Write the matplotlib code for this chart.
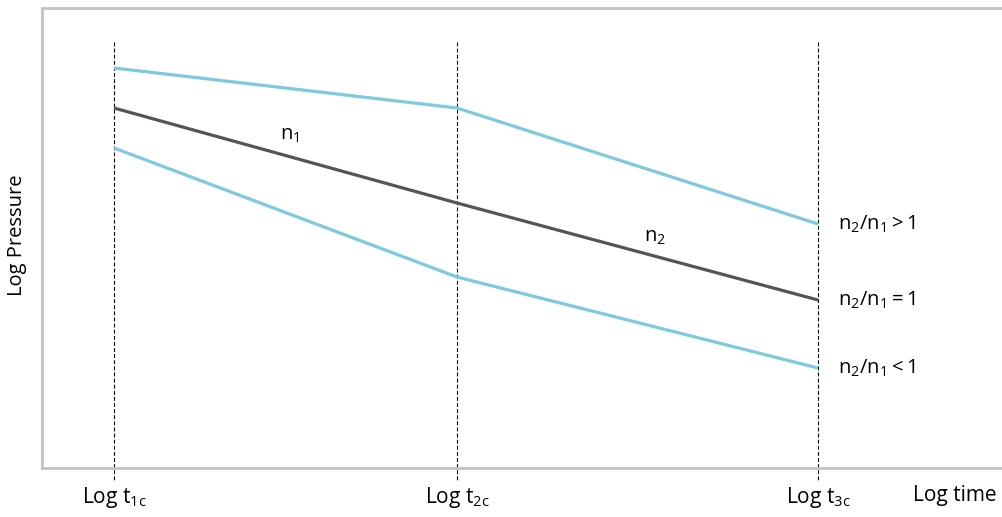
import matplotlib
matplotlib.use("Agg")
import matplotlib.pyplot as plt

plt.rcParams["font.family"] = ["Open Sans", "DejaVu Sans"]
plt.rcParams["mathtext.fontset"] = "custom"
plt.rcParams["mathtext.rm"] = "Open Sans"
plt.rcParams["mathtext.it"] = "Open Sans"

# log time of the critical points, and log pressure for each case
t_crit      = [1.14, 4.57, 8.18]
t_labels    = [r"Log $\mathrm{t_{1c}}$", r"Log $\mathrm{t_{2c}}$", r"Log $\mathrm{t_{3c}}$"]
p_greater   = [4.00, 3.60, 2.44]
p_equal     = [3.60, 2.65, 1.68]
p_less      = [3.20, 1.91, 1.00]
case_labels = [r"$\mathrm{n_2/n_1 > 1}$", r"$\mathrm{n_2/n_1 = 1}$", r"$\mathrm{n_2/n_1 < 1}$"]

CYAN = "#7dc9df"
DARK = "#555555"
FRAME = "#c3c3c3"

fig = plt.figure(figsize=(10.03, 5.17), dpi=100)
ax = fig.add_axes([42 / 1003, 49 / 517, 961 / 1003, 460 / 517])
ax.set_xlim(0.42, 10.03)
ax.set_ylim(0, 4.60)

# dashed guides at each critical time (run past the bottom frame)
for t in t_crit:
    ax.plot([t, t], [4.26, -0.12], color="black", lw=0.8,
            ls=(0, (3.5, 2)), clip_on=False, zorder=1)

ax.plot(t_crit, p_greater, color=CYAN, lw=2.3, solid_capstyle="butt", zorder=2)
ax.plot(t_crit, p_equal,   color=DARK, lw=2.3, solid_capstyle="butt", zorder=2)
ax.plot(t_crit, p_less,    color=CYAN, lw=2.3, solid_capstyle="butt", zorder=2)

ax.text(2.90, 3.33, r"$\mathrm{n_1}$", fontsize=14.5, ha="center", va="center")
ax.text(6.55, 2.31, r"$\mathrm{n_2}$", fontsize=14.5, ha="center", va="center")

for y, lab in zip([p_greater[-1], p_equal[-1], p_less[-1]], case_labels):
    ax.text(8.38, y, lab, fontsize=14.5, ha="left", va="center")

for t, lab in zip(t_crit, t_labels):
    ax.text(t, -0.29, lab, fontsize=15, ha="center", va="center", clip_on=False)
ax.text(9.55, -0.27, "Log time", fontsize=15, ha="center", va="center", clip_on=False)

fig.text(17 / 1003, 1 - 235 / 517, "Log Pressure", fontsize=14.5, rotation=90,
         ha="center", va="center")

ax.set_xticks([])
ax.set_yticks([])
ax.spines["right"].set_visible(False)
for s in ["left", "top", "bottom"]:
    ax.spines[s].set_color(FRAME)
    ax.spines[s].set_linewidth(2)

fig.savefig("out.png", dpi=100)
